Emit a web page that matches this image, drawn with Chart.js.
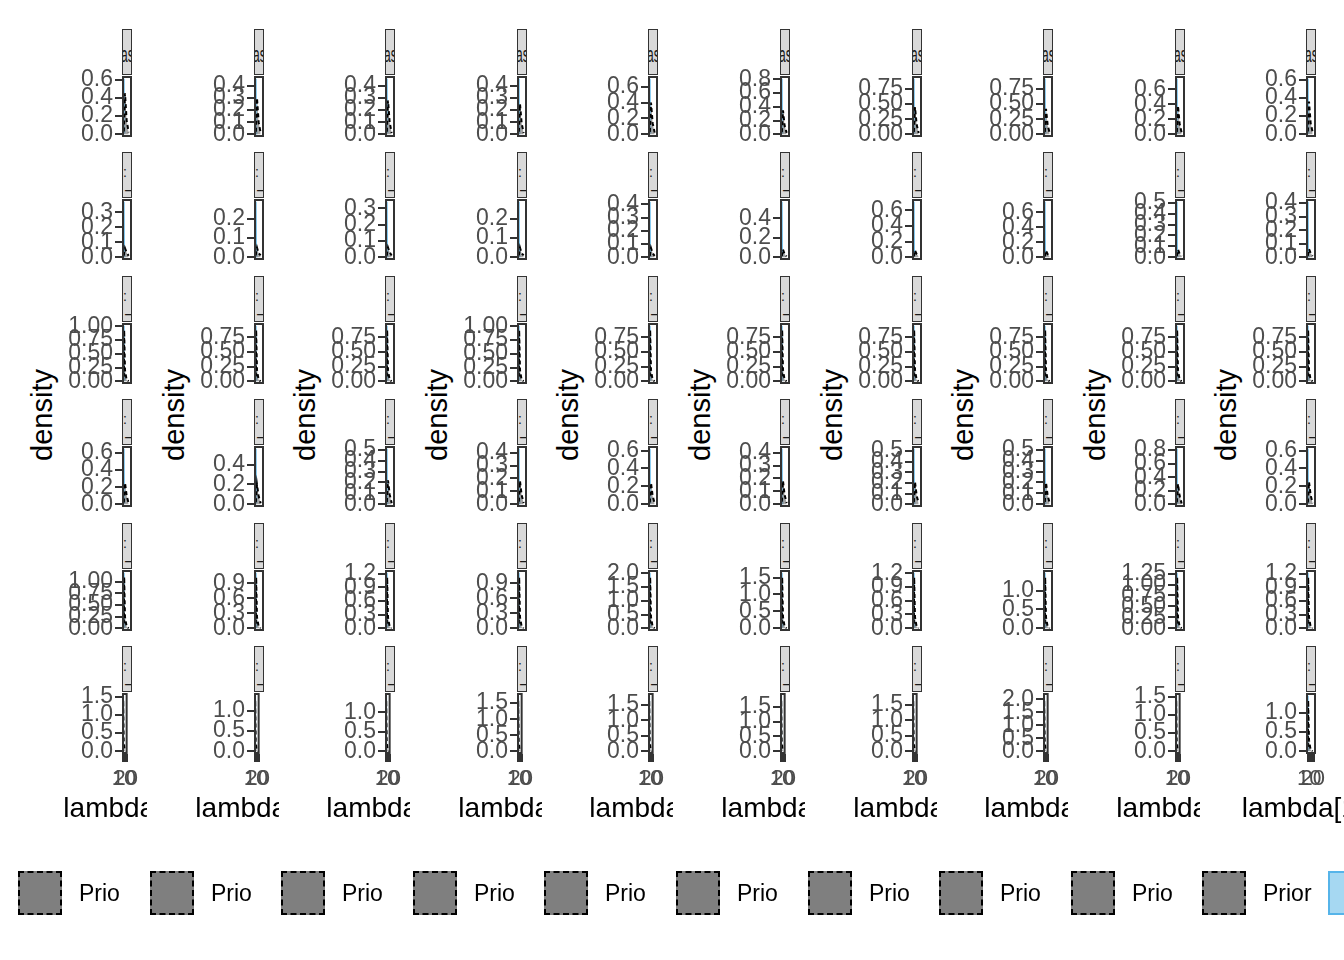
<!DOCTYPE html>
<html><head><meta charset="utf-8">
<script src="https://cdn.jsdelivr.net/npm/chart.js@4.4.1/dist/chart.umd.min.js"></script>
<style>
html,body{margin:0;padding:0;background:#fff;}
#root{position:relative;width:1344px;height:960px;overflow:hidden;background:#fff;font-family:"Liberation Sans",Arial,sans-serif;}
.strip{position:absolute;box-sizing:border-box;background:#D9D9D9;border:1.5px solid #333;overflow:hidden;width:10px;height:46px;}
.striptxt{position:absolute;white-space:nowrap;color:#1A1A1A;line-height:1;}
.ytitle{position:absolute;font-size:29px;color:#000;white-space:nowrap;transform:translate(-50%,-50%) rotate(-90deg);line-height:1;}
.legwrap{position:absolute;top:860px;height:70px;overflow:hidden;}
.key{position:absolute;top:11px;width:44px;height:44px;box-sizing:border-box;}
.keytext{position:absolute;top:22px;font-size:23px;line-height:1;color:#000;white-space:nowrap;}
.cv{position:absolute;}
</style></head><body><div id="root"></div>
<script>
// ---------------- data ----------------
const columnLabels = ['lambda[1]','lambda[2]','lambda[3]','lambda[4]','lambda[5]','lambda[6]','lambda[7]','lambda[8]','lambda[9]','lambda[10]'];
const stripRow1Text = 'as';
const legendLabels = ['Prior', 'Posterior'];
const xTicks = [10, 20];
const xRange = [0, 30];
const lambdaPost = [4.8, 5.5, 6.2, 8.0];
const lambdaPrior = [5.5, 6.5, 9.0, 14.0, 20.0];

const postRow1 = [[0.03,0.61,0.08,0.01],[0.02,0.46,0.06,0.00],[0.03,0.46,0.05,0.01],[0.02,0.46,0.06,0.00],[0.04,0.70,0.09,0.01],[0.04,0.81,0.10,0.01],[0.05,0.92,0.11,0.01],[0.05,0.92,0.12,0.01],[0.04,0.74,0.09,0.01],[0.03,0.61,0.08,0.01]];
const postRow2 = [[0.02,0.37,0.05,0.00],[0.02,0.29,0.04,0.00],[0.02,0.34,0.04,0.00],[0.01,0.29,0.04,0.00],[0.02,0.42,0.05,0.00],[0.03,0.57,0.07,0.01],[0.04,0.71,0.09,0.01],[0.04,0.74,0.09,0.01],[0.03,0.51,0.06,0.00],[0.02,0.41,0.05,0.00]];
const postRow3 = [[0.05,1.01,0.13,0.01],[0.05,0.95,0.12,0.01],[0.05,0.95,0.12,0.01],[0.05,1.01,0.13,0.01],[0.05,0.95,0.12,0.01],[0.05,0.95,0.12,0.01],[0.05,0.95,0.12,0.01],[0.05,0.95,0.12,0.01],[0.05,0.95,0.12,0.01],[0.05,0.95,0.12,0.01]];
const postRow4 = [[0.03,0.65,0.08,0.01],[0.03,0.56,0.07,0.01],[0.03,0.51,0.06,0.00],[0.02,0.43,0.05,0.00],[0.03,0.62,0.08,0.01],[0.02,0.43,0.05,0.00],[0.03,0.52,0.06,0.00],[0.03,0.51,0.06,0.00],[0.04,0.82,0.10,0.01],[0.03,0.62,0.08,0.01]];
const postRow5 = [[0.06,1.19,0.15,0.01],[0.06,1.11,0.14,0.01],[0.06,1.22,0.15,0.01],[0.06,1.11,0.14,0.01],[0.10,2.02,0.25,0.02],[0.08,1.64,0.20,0.02],[0.06,1.21,0.15,0.01],[0.07,1.47,0.18,0.01],[0.06,1.27,0.16,0.01],[0.06,1.22,0.15,0.01]];
const postRow6 = [[0.08,1.52,0.19,0.02],[0.07,1.38,0.17,0.01],[0.07,1.42,0.18,0.01],[0.09,1.73,0.22,0.02],[0.09,1.80,0.22,0.02],[0.09,1.88,0.23,0.02],[0.09,1.80,0.22,0.02],[0.11,2.13,0.26,0.02],[0.08,1.52,0.19,0.02],[0.07,1.45,0.18,0.01]];

const priorRow1 = [[0.03,0.12,0.45,0.15,0.02],[0.02,0.08,0.30,0.10,0.01],[0.02,0.08,0.28,0.10,0.01],[0.02,0.07,0.25,0.09,0.01],[0.03,0.10,0.40,0.14,0.02],[0.03,0.10,0.35,0.12,0.02],[0.04,0.12,0.45,0.16,0.02],[0.04,0.12,0.42,0.15,0.02],[0.03,0.10,0.38,0.13,0.02],[0.03,0.10,0.36,0.12,0.02]];
const priorRow2 = [[0.01,0.03,0.06,0.03,0.01],[0.01,0.03,0.05,0.02,0.01],[0.01,0.03,0.06,0.03,0.01],[0.01,0.02,0.05,0.02,0.01],[0.01,0.03,0.07,0.03,0.01],[0.01,0.04,0.08,0.03,0.01],[0.01,0.04,0.09,0.04,0.01],[0.01,0.04,0.09,0.04,0.01],[0.01,0.03,0.07,0.03,0.01],[0.01,0.03,0.06,0.03,0.01]];
const priorRow3 = [[0.08,0.93,0.20,0.02,0.00],[0.08,0.88,0.19,0.02,0.00],[0.08,0.88,0.19,0.02,0.00],[0.08,0.93,0.20,0.02,0.00],[0.08,0.88,0.19,0.02,0.00],[0.08,0.88,0.19,0.02,0.00],[0.08,0.88,0.19,0.02,0.00],[0.08,0.88,0.19,0.02,0.00],[0.08,0.88,0.19,0.02,0.00],[0.08,0.88,0.19,0.02,0.00]];
const priorRow4 = [[0.02,0.08,0.25,0.10,0.01],[0.02,0.07,0.20,0.08,0.01],[0.02,0.07,0.22,0.09,0.01],[0.02,0.06,0.18,0.07,0.01],[0.02,0.08,0.24,0.09,0.01],[0.02,0.06,0.18,0.07,0.01],[0.02,0.07,0.21,0.08,0.01],[0.02,0.07,0.20,0.08,0.01],[0.03,0.10,0.30,0.12,0.01],[0.02,0.08,0.25,0.10,0.01]];
const priorRow5 = [[0.10,1.10,0.24,0.03,0.00],[0.09,1.02,0.22,0.03,0.00],[0.10,1.12,0.24,0.03,0.00],[0.09,1.02,0.22,0.03,0.00],[0.16,1.86,0.40,0.05,0.00],[0.13,1.51,0.33,0.04,0.00],[0.10,1.11,0.24,0.03,0.00],[0.12,1.35,0.29,0.04,0.00],[0.10,1.17,0.25,0.03,0.00],[0.10,1.12,0.24,0.03,0.00]];
const priorRow6 = [[0.12,1.40,0.30,0.04,0.00],[0.11,1.27,0.27,0.03,0.00],[0.11,1.31,0.28,0.03,0.00],[0.14,1.59,0.34,0.04,0.00],[0.14,1.66,0.36,0.04,0.00],[0.15,1.73,0.37,0.05,0.00],[0.14,1.66,0.36,0.04,0.00],[0.17,1.96,0.42,0.05,0.00],[0.12,1.40,0.30,0.04,0.00],[0.11,1.33,0.29,0.03,0.00]];

const yStepRow1 = [0.2,0.1,0.1,0.1,0.2,0.2,0.25,0.25,0.2,0.2];
const yStepRow2 = [0.1,0.1,0.1,0.1,0.1,0.2,0.2,0.2,0.1,0.1];
const yStepRow3 = [0.25,0.25,0.25,0.25,0.25,0.25,0.25,0.25,0.25,0.25];
const yStepRow4 = [0.2,0.2,0.1,0.1,0.2,0.1,0.1,0.1,0.2,0.2];
const yStepRow5 = [0.25,0.3,0.3,0.3,0.5,0.5,0.3,0.5,0.25,0.3];
const yStepRow6 = [0.5,0.5,0.5,0.5,0.5,0.5,0.5,0.5,0.5,0.5];

const postRows = [postRow1,postRow2,postRow3,postRow4,postRow5,postRow6];
const priorRows = [priorRow1,priorRow2,priorRow3,priorRow4,priorRow5,priorRow6];
const stepRows = [yStepRow1,yStepRow2,yStepRow3,yStepRow4,yStepRow5,yStepRow6];

// ---------------- layout ----------------
const colX = [0,132,263,395,526,658,790,921,1053,1184];
const rowTop = [29,152,276,399,523,646];
const FONT = '"Liberation Sans", Arial, sans-serif';
const root = document.getElementById('root');

const panelBorder = {
  id: 'panelBorder',
  afterDraw(chart) {
    const a = chart.chartArea, ctx = chart.ctx;
    ctx.save();
    ctx.strokeStyle = '#333333';
    ctx.lineWidth = 2;
    ctx.strokeRect(a.left + 1, a.top + 1, a.right - a.left - 2, a.bottom - a.top - 2);
    ctx.restore();
  }
};

const xTitle = {
  id: 'xTitle',
  afterDraw(chart, args, opts) {
    if (!opts || !opts.text) return;
    const a = chart.chartArea, ctx = chart.ctx;
    ctx.save();
    ctx.font = '28px ' + FONT;
    ctx.fillStyle = '#000000';
    ctx.textAlign = 'center';
    ctx.textBaseline = 'alphabetic';
    ctx.fillText(opts.text, (a.left + a.right) / 2, opts.y);
    ctx.restore();
  }
};

function el(tag, cls, style, text) {
  const e = document.createElement(tag);
  if (cls) e.className = cls;
  Object.assign(e.style, style || {});
  if (text !== undefined) e.textContent = text;
  return e;
}

function makePanel(r, c) {
  const X = colX[c], T = rowTop[r];
  const last = r === 5;
  const W = c < 9 ? 147 : 170;
  const H = last ? 164 : 115;
  const post = postRows[r][c], prior = priorRows[r][c], step = stepRows[r][c];
  const M = Math.max(...post, ...prior);
  const dec = (step === 0.25) ? 2 : 1;

  const s = el('div', 'strip', {left: (X + 122) + 'px', top: T + 'px'});
  if (r === 0) {
    s.appendChild(el('span', 'striptxt', {left: '-2px', top: '13px', fontSize: '12px', transform: 'scale(1,1.9)', transformOrigin: '0 0'}, stripRow1Text));
  } else {
    s.appendChild(el('span', 'striptxt', {left: '0px', top: '12px', fontSize: '14px'}, ':'));
    s.appendChild(el('span', 'striptxt', {left: '2px', top: '26px', fontSize: '20px'}, '–'));
  }
  root.appendChild(s);

  const cv = document.createElement('canvas');
  cv.className = 'cv';
  cv.width = W; cv.height = H;
  Object.assign(cv.style, {left: X + 'px', top: (T + 20) + 'px', width: W + 'px', height: H + 'px'});
  root.appendChild(cv);

  new Chart(cv, {
    type: 'line',
    data: {
      datasets: [
        {label: legendLabels[0], data: lambdaPrior.map((x, i) => ({x, y: prior[i]})),
         borderColor: '#000000', borderDash: [4, 3], borderWidth: 2,
         backgroundColor: 'rgba(127,127,127,0.7)', fill: 'origin', pointRadius: 0, tension: 0},
        {label: legendLabels[1], data: lambdaPost.map((x, i) => ({x, y: post[i]})),
         borderColor: '#56B4E9', borderWidth: 1.5,
         backgroundColor: 'rgba(86,180,233,0.5)', fill: 'origin', pointRadius: 0, tension: 0}
      ]
    },
    options: {
      responsive: false, animation: false, devicePixelRatio: 1,
      layout: {padding: {left: 0, right: W - 132, top: 27, bottom: last ? 5 : 27}},
      plugins: {legend: {display: false}, tooltip: {enabled: false},
                xTitle: last ? {text: columnLabels[c], y: 151} : {text: ''}},
      scales: {
        x: {
          type: 'linear', min: xRange[0], max: xRange[1], display: last,
          afterBuildTicks: (sc) => { sc.ticks = xTicks.map(v => ({value: v})); },
          afterFit: (sc) => { if (last) sc.height = 71; },
          grid: {drawOnChartArea: false, drawTicks: true, tickLength: 8, color: '#333333', lineWidth: 4},
          border: {display: false},
          ticks: {autoSkip: false, maxRotation: 0, padding: 4, color: '#4D4D4D', font: {family: FONT, size: 22}},
          title: {display: false}
        },
        y: {
          type: 'linear', min: -0.05 * M, max: 1.05 * M,
          afterBuildTicks: (sc) => {
            const n = Math.floor(M / step + 1e-9);
            const t = [];
            for (let i = 0; i <= n; i++) t.push({value: +(i * step).toFixed(4)});
            sc.ticks = t;
          },
          afterFit: (sc) => { sc.width = 122; },
          grid: {drawOnChartArea: false, drawTicks: true, tickLength: 7, color: '#333333', lineWidth: 2},
          border: {display: false},
          ticks: {autoSkip: false, padding: 2, color: '#4D4D4D', font: {family: FONT, size: 23},
                  callback: (v) => Number(v).toFixed(dec)}
        }
      }
    },
    plugins: [panelBorder, xTitle]
  });
}

for (let c = 0; c < 10; c++) {
  const X = colX[c];
  root.appendChild(el('div', 'ytitle', {left: (X + 42) + 'px', top: '415px'}, 'density'));
  for (let r = 0; r < 6; r++) makePanel(r, c);
  const lw = el('div', 'legwrap', {left: X + 'px', width: (c < 9 ? 120 : 400) + 'px'});
  lw.appendChild(el('div', 'key', {left: '18px', background: '#7F7F7F', border: '2px dashed #000'}));
  lw.appendChild(el('div', 'keytext', {left: '79px'}, legendLabels[0]));
  lw.appendChild(el('div', 'key', {left: '144px', background: '#A6D8F2', border: '2px solid #56B4E9'}));
  lw.appendChild(el('div', 'keytext', {left: '205px'}, legendLabels[1]));
  root.appendChild(lw);
}
</script></body></html>
